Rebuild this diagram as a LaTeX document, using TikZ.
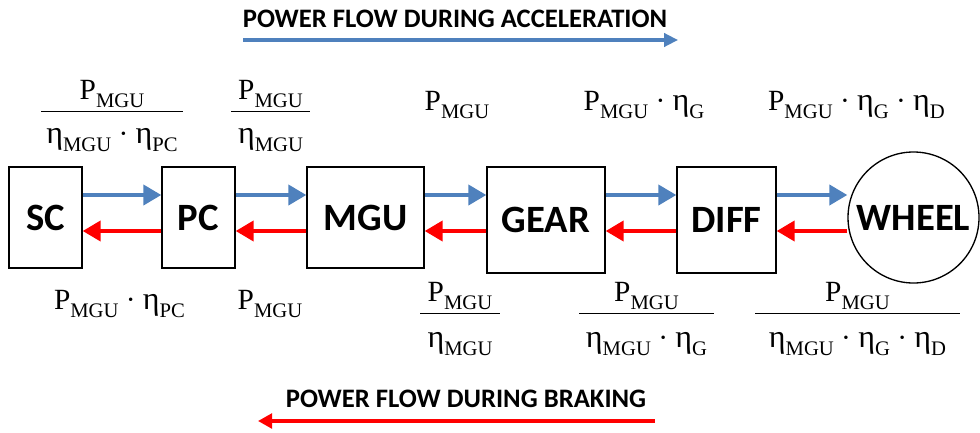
\documentclass[tikz,border=0pt]{standalone}
\usepackage{fontspec}
\setmainfont{Liberation Serif}
\newfontfamily\boxfont{Carlito}
\usetikzlibrary{arrows.meta}
\definecolor{accblue}{RGB}{79,129,189}
\definecolor{brkred}{RGB}{255,0,0}
\newcommand{\lsub}[1]{\raisebox{-6.5pt}{\fontsize{15.5}{15.5}\selectfont #1}}
\newcommand{\Pmgu}{P\lsub{MGU}}
\newcommand{\ef}[1]{{\fontsize{24}{24}\selectfont η}\lsub{#1}}

\begin{document}
\begin{tikzpicture}[x=0.75pt, y=-0.75pt,
  blk/.style={draw, line width=1pt, inner sep=0pt, font=\boxfont\bfseries\fontsize{29}{32}\selectfont},
  lab/.style={inner sep=0pt, anchor=base, font=\fontsize{22}{24}\selectfont},
  bar/.style={line width=1.2pt},
  fwd/.style={accblue, line width=3pt, -{Triangle[length=13.5pt, width=15pt]}},
  bwd/.style={brkred, line width=3pt, -{Triangle[length=13.5pt, width=15pt]}},
  ttl/.style={inner sep=0pt, anchor=base, font=\boxfont\bfseries\fontsize{20}{24}\selectfont}]
  \useasboundingbox (0,0) rectangle (980,432);

  % blocks
  \node[blk, minimum width=54.75pt, minimum height=75.75pt] (sc) at (45.5,217.5) {SC};
  \node[blk, minimum width=54.75pt, minimum height=75.75pt] (pc) at (198.5,217.5) {PC};
  \node[blk, minimum width=87.75pt, minimum height=75.75pt] (mgu) at (365.5,217.5) {MGU};
  \node[blk, minimum width=88.5pt, minimum height=79.5pt] (gear) at (546,220) {GEAR};
  \node[blk, minimum width=74.25pt, minimum height=79.5pt] (diff) at (726.5,220) {DIFF};
  \node[blk, circle, minimum size=98.25pt] (wheel) at (913.5,217.5) {WHEEL};

  % power arrows
  \coordinate (fw) at (0,195);
  \coordinate (bk) at (0,231);
  \foreach \a/\b in {sc/pc, pc/mgu, mgu/gear, gear/diff, diff/wheel} {
    \draw[fwd] (\a.east |- fw) -- (\b.west |- fw);
    \draw[bwd] (\b.west |- bk) -- (\a.east |- bk);
  }

  % headings
  \node[ttl] (acc) at (455,27) {POWER FLOW DURING ACCELERATION};
  \coordinate (accS) at (243,40);
  \coordinate (accE) at (678,40);
  \draw[accblue, line width=2.4pt, -{Triangle[length=10.5pt, width=10pt]}] (accS) -- (accE);
  \node[ttl] (brk) at (466,407) {POWER FLOW DURING BRAKING};
  \coordinate (brkS) at (655,421);
  \coordinate (brkE) at (258,421);
  \draw[brkred, line width=2.4pt, -{Triangle[length=10.5pt, width=11pt]}] (brkS) -- (brkE);

  % acceleration labels
  \node[lab] (n1) at (112,99) {\Pmgu};
  \node[lab] (d1) at (112,143) {\ef{MGU}\ ·\ \ef{PC}};
  \node[lab] (n2) at (270.5,99) {\Pmgu};
  \node[lab] (d2) at (270.5,143) {\ef{MGU}};
  \node[lab] (t3) at (457,110) {\Pmgu};
  \node[lab] (t4) at (644,110) {\Pmgu\ ·\ \ef{G}};
  \node[lab] (t5) at (856.5,110) {\Pmgu\ ·\ \ef{G}\ ·\ \ef{D}};

  % braking labels
  \node[lab] (b1) at (119.5,309) {\Pmgu\ ·\ \ef{PC}};
  \node[lab] (b2) at (270,309) {\Pmgu};
  \node[lab] (n3) at (460,301) {\Pmgu};
  \node[lab] (d3) at (460,347) {\ef{MGU}};
  \node[lab] (n4) at (646.5,301) {\Pmgu};
  \node[lab] (d4) at (646.5,347) {\ef{MGU}\ ·\ \ef{G}};
  \node[lab] (n5) at (857.5,301) {\Pmgu};
  \node[lab] (d5) at (857.5,347) {\ef{MGU}\ ·\ \ef{G}\ ·\ \ef{D}};

  % fraction bars
  \foreach \xa/\xb/\y in {41/183/111.5, 231/310/111.5, 420/500/313.5, 579/714/313.5, 755/960/313.5} {
    \draw[bar] (\xa,\y) -- (\xb,\y);
  }
\end{tikzpicture}
\end{document}
